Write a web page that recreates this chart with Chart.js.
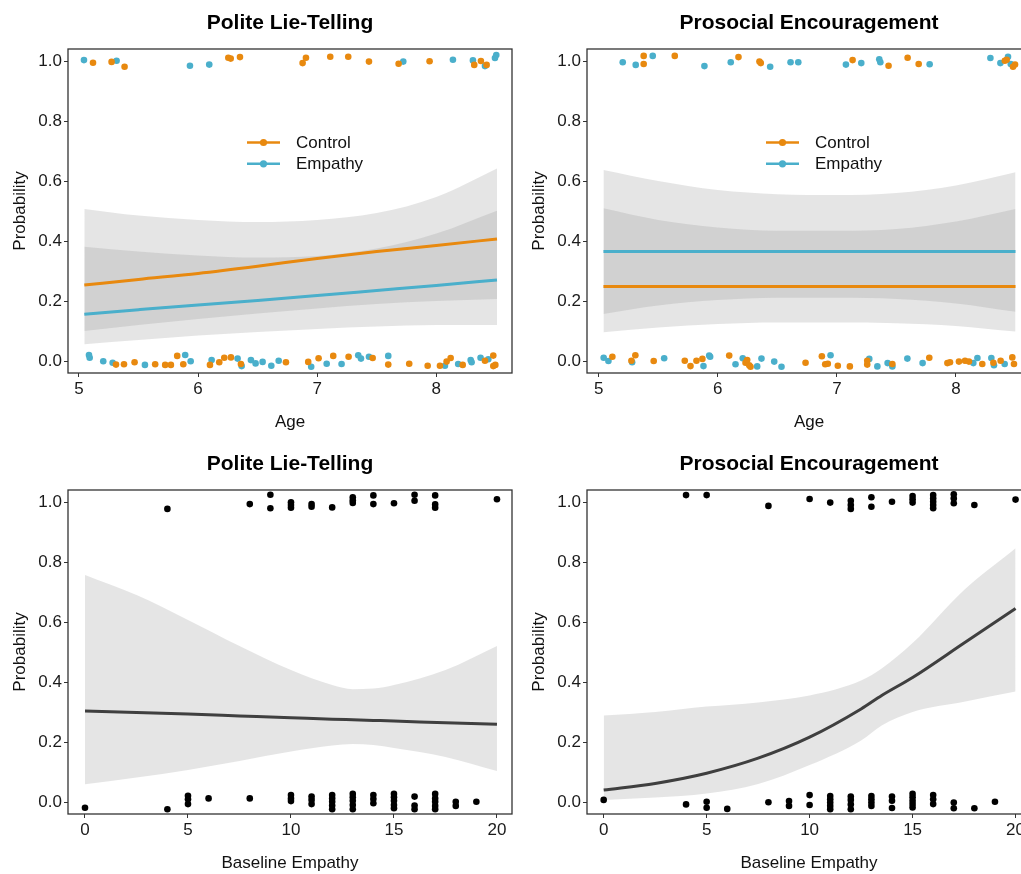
<!DOCTYPE html>
<html>
<head>
<meta charset="utf-8">
<script src="https://cdn.jsdelivr.net/npm/chart.js@4"></script>
<style>
  html, body { margin: 0; padding: 0; overflow: hidden; background: #fff; }
  body { width: 1021px; height: 874px; position: relative; }
  canvas { position: absolute; }
</style>
</head>
<body>
<canvas id="c1" width="520" height="440" style="left:0;top:0"></canvas>
<canvas id="c2" width="520" height="440" style="left:519px;top:0"></canvas>
<canvas id="c3" width="520" height="440" style="left:0;top:441px"></canvas>
<canvas id="c4" width="520" height="440" style="left:519px;top:441px"></canvas>
<script>
// tick labels
const probTicks = [0, 0.2, 0.4, 0.6, 0.8, 1.0];
const ageTicks = [5, 6, 7, 8];
const empathyTicks = [0, 5, 10, 15, 20];
const legendLabels = ["Control", "Empathy"];

const orange = "#E8890F";
const blue = "#4AAFCB";
const bandFill = "rgba(150,150,150,0.25)";

// Polite lie-telling by age: jittered responses
const politeCtrlPts = [
  [5.118,0.994],[5.274,0.997],[5.383,0.981],[6.254,1.011],[6.274,1.008],[6.352,1.013],[6.878,0.993],[6.906,1.011],
  [7.11,1.014],[7.261,1.014],[7.435,0.998],[7.684,0.991],[7.944,0.999],[8.319,0.987],[8.375,1.0],[8.423,0.987],
  [5.311,-0.012],[5.378,-0.011],[5.467,-0.004],[5.64,-0.011],[5.724,-0.013],[5.772,-0.013],[5.825,0.017],[5.876,-0.011],
  [6.1,-0.013],[6.178,-0.004],[6.22,0.011],[6.276,0.012],[6.36,-0.01],[6.738,-0.004],[6.925,-0.003],[7.012,0.009],
  [7.135,0.017],[7.264,0.014],[7.466,0.01],[7.597,-0.012],[7.773,-0.009],[7.928,-0.016],[8.031,-0.016],[8.087,-0.002],
  [8.121,0.01],[8.222,-0.013],[8.409,0.001],[8.479,0.018],[8.479,-0.017],[8.496,-0.013]
];
const politeEmpPts = [
  [5.042,1.003],[5.316,1.001],[5.932,0.984],[6.094,0.988],[7.723,0.998],[8.14,1.004],[8.308,1.002],[8.409,0.983],
  [8.493,1.01],[8.504,1.02],
  [5.084,0.02],[5.09,0.011],[5.204,-0.001],[5.283,-0.006],[5.554,-0.013],[5.892,0.02],[5.938,-0.001],[6.114,0.003],
  [6.332,0.008],[6.366,-0.017],[6.444,0.003],[6.483,-0.008],[6.542,-0.003],[6.615,-0.016],[6.677,0.001],[6.95,-0.019],
  [7.08,-0.009],[7.205,-0.01],[7.345,0.019],[7.368,0.008],[7.435,0.014],[7.597,0.017],[8.073,-0.016],[8.184,-0.01],
  [8.289,0.003],[8.297,-0.004],[8.372,0.011],[8.437,0.006]
];
// Polite lie-telling by age: fitted curves and ribbons
const politeAgeX = [5.045, 5.5, 6, 6.5, 7, 7.5, 8, 8.51];
const politeCtrlFit = [0.253, 0.272, 0.292, 0.316, 0.342, 0.365, 0.385, 0.407];
const politeCtrlHi = [0.507, 0.485, 0.470, 0.463, 0.470, 0.493, 0.547, 0.642];
const politeCtrlLo = [0.100, 0.120, 0.140, 0.158, 0.175, 0.190, 0.200, 0.207];
const politeEmpFit = [0.156, 0.171, 0.187, 0.202, 0.218, 0.235, 0.252, 0.270];
const politeEmpHi = [0.381, 0.365, 0.352, 0.345, 0.350, 0.375, 0.425, 0.501];
const politeEmpLo = [0.056, 0.070, 0.085, 0.097, 0.107, 0.115, 0.120, 0.120];

// Prosocial encouragement by age: jittered responses
const prosocCtrlPts = [
  [5.378,0.99],[5.378,1.017],[5.639,1.017],[6.174,1.013],[6.35,0.998],[6.361,0.993],[7.132,1.003],[7.434,0.984],
  [7.594,1.011],[7.687,0.99],[8.41,1.001],[8.426,1.004],[8.479,0.981],[8.496,0.988],
  [5.115,0.014],[5.275,0.001],[5.308,0.019],[5.462,0.0],[5.723,0.001],[5.771,-0.017],[5.821,0.001],[5.871,0.007],
  [6.096,0.018],[6.233,-0.006],[6.247,0.003],[6.264,-0.014],[6.275,-0.019],[6.737,-0.006],[6.874,0.016],[6.902,-0.011],
  [6.924,-0.009],[7.008,-0.016],[7.109,-0.018],[7.255,0.001],[7.255,-0.012],[7.466,-0.01],[7.776,0.011],[7.928,-0.007],
  [7.95,-0.004],[8.025,-0.002],[8.076,0.001],[8.109,-0.002],[8.221,-0.01],[8.314,-0.006],[8.375,0.001],[8.473,0.012],
  [8.487,-0.01]
];
const prosocEmpPts = [
  [5.202,0.996],[5.311,0.987],[5.454,1.017],[5.888,0.983],[6.109,0.996],[6.44,0.981],[6.611,0.996],[6.676,0.996],
  [7.076,0.988],[7.205,0.993],[7.356,1.006],[7.365,0.996],[7.779,0.989],[8.289,1.01],[8.373,0.993],[8.437,1.014],
  [8.46,0.99],
  [5.042,0.011],[5.082,0.0],[5.281,-0.004],[5.55,0.009],[5.88,-0.017],[5.928,0.018],[5.936,0.014],[6.149,-0.011],
  [6.21,0.009],[6.331,-0.018],[6.367,0.008],[6.474,-0.002],[6.535,-0.019],[6.947,0.019],[7.272,0.007],[7.34,-0.018],
  [7.426,-0.007],[7.466,-0.018],[7.592,0.008],[7.72,-0.007],[8.146,-0.007],[8.18,0.01],[8.297,0.01],[8.319,-0.014],
  [8.409,-0.01]
];
const prosocAgeX = [5.04, 5.5, 6, 6.5, 7, 7.5, 8, 8.5];
const prosocCtrlFit = [0.248, 0.248, 0.248, 0.248, 0.248, 0.248, 0.248, 0.248];
const prosocCtrlHi = [0.509, 0.470, 0.445, 0.434, 0.434, 0.440, 0.465, 0.507];
const prosocCtrlLo = [0.096, 0.112, 0.123, 0.128, 0.128, 0.126, 0.117, 0.098];
const prosocEmpFit = [0.365, 0.365, 0.365, 0.365, 0.365, 0.365, 0.365, 0.365];
const prosocEmpHi = [0.637, 0.600, 0.570, 0.556, 0.553, 0.560, 0.585, 0.629];
const prosocEmpLo = [0.157, 0.185, 0.203, 0.211, 0.211, 0.207, 0.192, 0.164];

// Baseline empathy panels: responses (integer scores, vertical jitter)
const politeBasePts = [
  [4,0.977],[8,0.993],[9,1.024],[9,0.979],[10,0.999],[10,0.99],[10,0.981],[11,0.993],[11,0.984],[12,0.982],
  [13,1.016],[13,1.006],[13,0.997],[14,1.022],[14,0.993],[15,0.996],[16,1.024],[16,1.004],[17,1.022],[17,0.992],
  [17,0.981],[20,1.009],
  [0,-0.019],[4,-0.024],[5,0.021],[5,0.009],[5,-0.007],[6,0.012],[8,0.012],[10,0.023],[10,0.012],[10,0.003],
  [11,0.018],[11,0.007],[11,-0.007],[12,0.023],[12,0.012],[12,0.001],[12,-0.012],[12,-0.024],[13,0.027],[13,0.016],
  [13,0.004],[13,-0.01],[13,-0.024],[14,0.023],[14,0.01],[14,-0.004],[15,0.027],[15,0.016],[15,0.004],[15,-0.01],
  [15,-0.021],[16,0.018],[16,-0.012],[16,-0.024],[17,0.027],[17,0.012],[17,0.001],[17,-0.013],[17,-0.024],[18,0.001],
  [18,-0.013],[19,0.001]
];
const prosocBasePts = [
  [4,1.023],[5,1.023],[8,0.987],[10,1.01],[11,0.998],[12,1.004],[12,0.99],[12,0.977],[13,1.016],[13,0.984],
  [14,1.001],[15,1.02],[15,1.009],[15,0.998],[16,1.023],[16,1.012],[16,1.001],[16,0.99],[16,0.979],[17,1.026],
  [17,1.012],[17,0.996],[18,0.99],[20,1.008],
  [0,0.007],[4,-0.008],[5,0.001],[5,-0.019],[6,-0.023],[8,-0.001],[9,0.003],[9,-0.013],[10,0.023],[10,-0.01],
  [11,0.02],[11,0.009],[11,-0.002],[11,-0.013],[11,-0.024],[12,0.018],[12,0.007],[12,-0.008],[12,-0.024],[13,0.02],
  [13,0.009],[13,-0.002],[13,-0.013],[14,0.018],[14,0.004],[14,-0.02],[15,0.027],[15,0.016],[15,0.004],[15,-0.007],
  [15,-0.018],[16,0.023],[16,0.009],[16,-0.007],[17,-0.002],[17,-0.021],[18,-0.021],[19,0.001]
];
const politeBaseX = [0, 2.5, 5, 7.5, 10, 12, 13, 14, 15, 17.5, 20];
const politeBaseFit = [0.303, 0.298, 0.293, 0.287, 0.281, 0.276, 0.274, 0.272, 0.270, 0.264, 0.259];
const politeBaseHi = [0.757, 0.690, 0.607, 0.520, 0.440, 0.390, 0.376, 0.378, 0.390, 0.440, 0.520];
const politeBaseLo = [0.059, 0.082, 0.107, 0.137, 0.168, 0.188, 0.193, 0.190, 0.180, 0.150, 0.103];
const prosocBaseX = [0, 2.5, 5, 7.5, 10, 12.5, 13.5, 15, 17.5, 20];
const prosocBaseFit = [0.040, 0.062, 0.096, 0.146, 0.216, 0.310, 0.355, 0.415, 0.530, 0.645];
const prosocBaseHi = [0.288, 0.300, 0.318, 0.332, 0.355, 0.405, 0.445, 0.530, 0.707, 0.846];
const prosocBaseLo = [0.007, 0.015, 0.028, 0.060, 0.123, 0.205, 0.255, 0.300, 0.334, 0.368];

const FONT = "'Liberation Sans', Arial, Helvetica, sans-serif";

const zip = (xs, ys) => xs.map((x, i) => ({ x: x, y: ys[i] }));
const pts = arr => arr.map(p => ({ x: p[0], y: p[1] }));

function pointSet(data, color) {
  return { data: pts(data), showLine: false, pointRadius: 3.3, pointBackgroundColor: color,
           pointBorderWidth: 0, borderWidth: 0, backgroundColor: color };
}
function fitLine(xs, ys, color) {
  return { data: zip(xs, ys), borderColor: color, borderWidth: 3, pointRadius: 0,
           cubicInterpolationMode: "monotone", fill: false };
}
function band(xs, hi, lo) {
  return [
    { data: zip(xs, hi), borderWidth: 0, pointRadius: 0, fill: "+1", backgroundColor: bandFill,
      cubicInterpolationMode: "monotone" },
    { data: zip(xs, lo), borderWidth: 0, pointRadius: 0, fill: false, cubicInterpolationMode: "monotone" }
  ];
}

const frameAndLegend = {
  id: "frameAndLegend",
  afterDatasetsDraw(chart, args, opts) {
    const { ctx, chartArea: a } = chart;
    ctx.save();
    ctx.strokeStyle = "#333";
    ctx.lineWidth = 1.3;
    ctx.strokeRect(a.left, a.top, a.right - a.left, a.bottom - a.top);
    if (opts.legend) {
      const colors = [orange, blue];
      ctx.font = "17px " + FONT;
      ctx.textBaseline = "middle";
      legendLabels.forEach((label, i) => {
        const y = a.top + 93.5 + i * 21.3;
        ctx.strokeStyle = colors[i];
        ctx.lineWidth = 2.5;
        ctx.beginPath();
        ctx.moveTo(a.left + 179, y);
        ctx.lineTo(a.left + 212, y);
        ctx.stroke();
        ctx.fillStyle = colors[i];
        ctx.beginPath();
        ctx.arc(a.left + 195.5, y, 3.6, 0, Math.PI * 2);
        ctx.fill();
        ctx.fillStyle = "#111";
        ctx.fillText(label, a.left + 228, y + 1);
      });
    }
    ctx.restore();
  }
};

function makePanel(id, title, xTitle, xTicks, xMin, xMax, datasets, legend) {
  return new Chart(document.getElementById(id), {
    type: "line",
    data: { datasets: datasets },
    plugins: [frameAndLegend],
    options: {
      responsive: false,
      animation: false,
      events: [],
      layout: { padding: { left: 0, right: 8, top: 0, bottom: 0 } },
      plugins: {
        legend: { display: false },
        tooltip: { enabled: false },
        title: {
          display: true, text: title, fullSize: false, color: "#000",
          font: { family: FONT, size: 21, weight: "bold", lineHeight: 1.2 },
          padding: { top: 10.4, bottom: 13.4 }
        },
        frameAndLegend: { legend: legend }
      },
      scales: {
        x: {
          type: "linear", min: xMin, max: xMax,
          afterBuildTicks: s => { s.ticks = xTicks.map(v => ({ value: v })); },
          afterFit: s => { s.height = 67; },
          grid: { drawOnChartArea: false, drawTicks: true, tickLength: 4, color: "#333" },
          border: { display: false },
          ticks: { color: "#1a1a1a", padding: 2, maxRotation: 0, font: { family: FONT, size: 17 },
                   callback: v => String(v) },
          title: { display: true, text: xTitle, color: "#111", font: { family: FONT, size: 17 },
                   padding: { top: 0, bottom: 7 } }
        },
        y: {
          type: "linear", min: -0.04, max: 1.04,
          afterBuildTicks: s => { s.ticks = probTicks.map(v => ({ value: v })); },
          afterFit: s => { s.width = 68; },
          grid: { drawOnChartArea: false, drawTicks: true, tickLength: 4, color: "#333" },
          border: { display: false },
          ticks: { color: "#1a1a1a", padding: 2, font: { family: FONT, size: 17 },
                   callback: v => v.toFixed(1) },
          title: { display: true, text: "Probability", color: "#111", font: { family: FONT, size: 17 },
                   padding: { top: 10, bottom: 0 } }
        }
      }
    }
  });
}

makePanel("c1", "Polite Lie-Telling", "Age", ageTicks, 4.908, 8.636, [
  pointSet(politeCtrlPts, orange),
  pointSet(politeEmpPts, blue),
  fitLine(politeAgeX, politeCtrlFit, orange),
  fitLine(politeAgeX, politeEmpFit, blue),
  ...band(politeAgeX, politeCtrlHi, politeCtrlLo),
  ...band(politeAgeX, politeEmpHi, politeEmpLo)
], true);

makePanel("c2", "Prosocial Encouragement", "Age", ageTicks, 4.902, 8.63, [
  pointSet(prosocCtrlPts, orange),
  pointSet(prosocEmpPts, blue),
  fitLine(prosocAgeX, prosocCtrlFit, orange),
  fitLine(prosocAgeX, prosocEmpFit, blue),
  ...band(prosocAgeX, prosocCtrlHi, prosocCtrlLo),
  ...band(prosocAgeX, prosocEmpHi, prosocEmpLo)
], true);

makePanel("c3", "Polite Lie-Telling", "Baseline Empathy", empathyTicks, -0.825, 20.73, [
  pointSet(politeBasePts, "#000"),
  fitLine(politeBaseX, politeBaseFit, "#3f3f3f"),
  ...band(politeBaseX, politeBaseHi, politeBaseLo)
], false);

makePanel("c4", "Prosocial Encouragement", "Baseline Empathy", empathyTicks, -0.81, 20.75, [
  pointSet(prosocBasePts, "#000"),
  fitLine(prosocBaseX, prosocBaseFit, "#3f3f3f"),
  ...band(prosocBaseX, prosocBaseHi, prosocBaseLo)
], false);
</script>
</body>
</html>
